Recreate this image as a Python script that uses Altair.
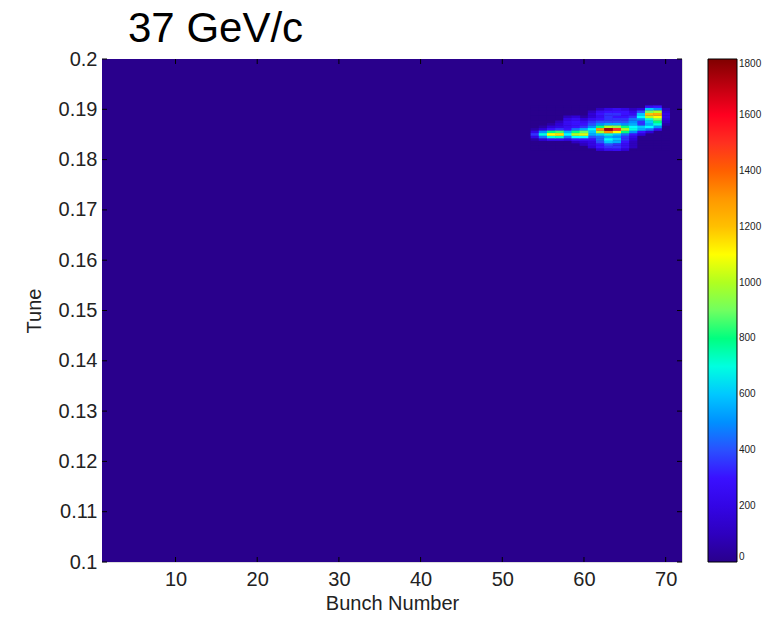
import altair as alt
import pandas as pd

# ---- data ----
bunches = list(range(54, 71))  # 54..70
tunes = [0.1905, 0.1900, 0.1895, 0.1890, 0.1885, 0.1880, 0.1875, 0.1870, 0.1865,
         0.1860, 0.1855, 0.1850, 0.1845, 0.1840, 0.1835, 0.1830, 0.1825, 0.1820]
counts = [
    [0, 0, 0, 0, 0, 0, 0, 0, 0, 0, 0, 0, 0, 0, 250, 300, 0],
    [0, 0, 0, 0, 0, 0, 0, 0, 100, 200, 250, 200, 100, 150, 600, 500, 100],
    [0, 0, 0, 0, 0, 0, 0, 100, 250, 300, 300, 300, 200, 400, 900, 1000, 150],
    [0, 0, 0, 0, 0, 0, 0, 150, 300, 350, 350, 300, 250, 600, 1200, 1250, 200],
    [0, 0, 0, 0, 100, 150, 50, 150, 250, 350, 300, 300, 350, 650, 1000, 1100, 200],
    [0, 0, 0, 0, 200, 250, 150, 250, 300, 350, 350, 350, 450, 500, 700, 900, 150],
    [0, 0, 0, 100, 250, 300, 250, 350, 400, 400, 400, 400, 500, 350, 600, 800, 100],
    [0, 0, 50, 150, 250, 300, 300, 400, 500, 550, 550, 500, 550, 350, 550, 700, 50],
    [0, 50, 150, 200, 250, 300, 350, 500, 800, 1000, 950, 800, 650, 600, 650, 500, 0],
    [50, 150, 300, 350, 300, 450, 550, 650, 1300, 1750, 1500, 1000, 700, 550, 450, 250, 0],
    [200, 500, 800, 850, 550, 800, 900, 600, 1000, 1300, 1100, 800, 500, 300, 150, 0, 0],
    [350, 700, 1100, 1150, 650, 1000, 1050, 550, 600, 700, 600, 450, 300, 150, 0, 0, 0],
    [200, 450, 700, 750, 450, 650, 650, 400, 450, 550, 500, 350, 200, 0, 0, 0, 0],
    [50, 150, 250, 250, 200, 300, 300, 300, 450, 650, 600, 350, 150, 0, 0, 0, 0],
    [0, 0, 0, 0, 0, 100, 150, 200, 400, 600, 550, 300, 100, 0, 0, 0, 0],
    [0, 0, 0, 0, 0, 0, 100, 200, 300, 400, 350, 250, 100, 0, 0, 0, 0],
    [0, 0, 0, 0, 0, 0, 0, 150, 300, 350, 350, 250, 100, 0, 0, 0, 0],
    [0, 0, 0, 0, 0, 0, 0, 0, 150, 250, 250, 150, 0, 0, 0, 0, 0],
]
x_domain = [1, 72]
y_domain = [0.1, 0.2]
c_domain = [0, 1800]
x_ticks = [10, 20, 30, 40, 50, 60, 70]
y_ticks = [0.10, 0.11, 0.12, 0.13, 0.14, 0.15, 0.16, 0.17, 0.18, 0.19, 0.20]
cbar_ticks = [0, 200, 400, 600, 800, 1000, 1200, 1400, 1600, 1800]
cbar_inner = [200, 400, 600, 800, 1000, 1200, 1400, 1600]
cmap_stops = [0, 150, 300, 400, 500, 600, 650, 750, 800, 900, 1000, 1100,
              1200, 1300, 1400, 1500, 1600, 1700, 1800]
cmap_colors = ["#29008c", "#3000d8", "#3a10ff", "#2a50ff", "#0090ff", "#00c8ff",
               "#00ffff", "#00ffc0", "#00ff80", "#70ff60", "#b0ff20", "#ffff00",
               "#ffc000", "#ff9800", "#ff6000", "#ff3020", "#ff0020", "#c00010",
               "#800000"]
title_text = "37 GeV/c"

rows = []
for ti, t in enumerate(tunes):
    for bi, b in enumerate(bunches):
        rows.append({"bunch": b, "tune": t, "count": counts[ti][bi]})
df = pd.DataFrame(rows)

FONT = "Liberation Sans"
BG = cmap_colors[0]
W, H = 580, 503

xscale = alt.Scale(domain=x_domain, nice=False, zero=False)
yscale = alt.Scale(domain=y_domain, nice=False, zero=False)

x_axis = alt.Axis(values=x_ticks, title="Bunch Number", tickSize=0,
                  labelPadding=7, titlePadding=4, labelFontSize=20,
                  titleFontSize=20, labelFont=FONT, titleFont=FONT,
                  titleFontWeight="normal", labelColor="#222",
                  titleColor="#222", grid=False, domain=False)
y_axis = alt.Axis(values=y_ticks, title="Tune", tickSize=0,
                  labelExpr="format(datum.value, '.2~f')",
                  labelPadding=5, titlePadding=14, labelFontSize=20,
                  titleFontSize=20, labelFont=FONT, titleFont=FONT,
                  titleFontWeight="normal", labelColor="#222",
                  titleColor="#222", grid=False, domain=False)

cscale = alt.Scale(domain=cmap_stops, range=cmap_colors, interpolate="rgb")

# background of the plot area (lowest contour level)
bg_df = pd.DataFrame({"x1": [x_domain[0]], "x2": [x_domain[1]],
                      "y1": [y_domain[0]], "y2": [y_domain[1]]})
bg = alt.Chart(bg_df).mark_rect(color=BG, strokeWidth=0).encode(
    x=alt.X("x1:Q", scale=xscale, axis=x_axis), x2="x2:Q",
    y=alt.Y("y1:Q", scale=yscale, axis=y_axis), y2="y2:Q")

heat = alt.Chart(df).transform_calculate(
    x1="datum.bunch - 0.53", x2="datum.bunch + 0.53",
    y1="datum.tune - 0.00027", y2="datum.tune + 0.00027",
).mark_rect(strokeWidth=0).encode(
    x=alt.X("x1:Q", scale=xscale, axis=x_axis),
    x2="x2:Q",
    y=alt.Y("y1:Q", scale=yscale, axis=y_axis),
    y2="y2:Q",
    color=alt.Color("count:Q", scale=cscale,
                    legend=alt.Legend(orient="none", legendX=606, legendY=0,
                                      direction="vertical", title=None,
                                      type="gradient",
                                      values=cbar_ticks, format="d",
                                      gradientLength=H,
                                      gradientThickness=29,
                                      gradientStrokeColor="black",
                                      gradientStrokeWidth=1,
                                      labelFontSize=10, labelFont=FONT,
                                      labelColor="#222", labelOffset=2,
                                      padding=0)),
    order=alt.Order("count:Q"),
)

xt = pd.DataFrame({"x1": x_ticks})
yt = pd.DataFrame({"y1": y_ticks})
ct = pd.DataFrame({"c": cbar_inner})

xt_top = alt.Chart(xt).mark_rule(color="black", strokeWidth=1).encode(
    x=alt.X("x1:Q", scale=xscale, axis=x_axis), y=alt.value(0), y2=alt.value(5))
xt_bot = alt.Chart(xt).mark_rule(color="black", strokeWidth=1).encode(
    x=alt.X("x1:Q", scale=xscale, axis=x_axis), y=alt.value(H), y2=alt.value(H - 5))
yt_left = alt.Chart(yt).mark_rule(color="black", strokeWidth=1).encode(
    y=alt.Y("y1:Q", scale=yscale, axis=y_axis), x=alt.value(0), x2=alt.value(5))
yt_right = alt.Chart(yt).mark_rule(color="black", strokeWidth=1).encode(
    y=alt.Y("y1:Q", scale=yscale, axis=y_axis), x=alt.value(W), x2=alt.value(W - 5))

# colorbar ticks: map colour value onto the same vertical extent
ct_calc = f"{y_domain[0]} + (datum.c - {c_domain[0]}) / ({c_domain[1]} - {c_domain[0]}) * ({y_domain[1]} - {y_domain[0]})"
ct_left = alt.Chart(ct).transform_calculate(y1=ct_calc).mark_rule(
    color="black", strokeWidth=1).encode(
    y=alt.Y("y1:Q", scale=yscale, axis=y_axis), x=alt.value(606), x2=alt.value(610))
ct_right = alt.Chart(ct).transform_calculate(y1=ct_calc).mark_rule(
    color="black", strokeWidth=1).encode(
    y=alt.Y("y1:Q", scale=yscale, axis=y_axis), x=alt.value(631), x2=alt.value(635))

title_df = pd.DataFrame({"t": [title_text]})
title = alt.Chart(title_df).mark_text(
    font=FONT, fontSize=42, align="left", baseline="alphabetic", color="black"
).encode(text="t:N", x=alt.value(26), y=alt.value(-17))

chart = alt.layer(bg, heat, xt_top, xt_bot, yt_left, yt_right,
                  title, ct_left, ct_right).properties(
    width=W, height=H,
    autosize=alt.AutoSizeParams(type="none"),
    padding={"left": 102, "top": 59, "right": 98, "bottom": 56},
).configure_view(stroke="black", strokeWidth=1.2).configure(
    background="white"
)

chart.save("out.html", embed_options={"renderer": "svg", "actions": False})
